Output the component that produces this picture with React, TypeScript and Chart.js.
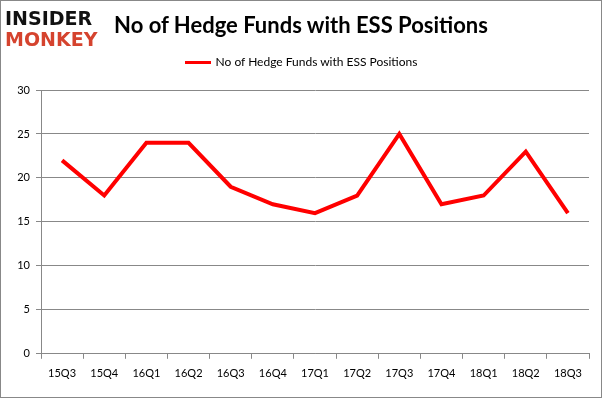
import React, { useEffect, useRef } from "react";
import { Chart, registerables } from "chart.js";

Chart.register(...registerables);

const categories = ["15Q3", "15Q4", "16Q1", "16Q2", "16Q3", "16Q4", "17Q1", "17Q2", "17Q3", "17Q4", "18Q1", "18Q2", "18Q3"];
const hedgeFunds = [22, 18, 24, 24, 19, 17, 16, 18, 25, 17, 18, 23, 16];
const seriesLabel = "No of Hedge Funds with ESS Positions";
const titleText = "No of Hedge Funds with ESS Positions";
const lineColor = "#ff0000";

const fontFamily = "Lato, 'Open Sans', sans-serif";

export default function App() {
  const ref = useRef<HTMLCanvasElement | null>(null);

  useEffect(() => {
    document.body.style.margin = "0";
    const canvas = ref.current;
    if (!canvas) return;
    const chart = new Chart(canvas, {
      type: "line",
      data: {
        labels: categories,
        datasets: [
          {
            label: seriesLabel,
            data: hedgeFunds,
            borderColor: lineColor,
            backgroundColor: lineColor,
            borderWidth: 4,
            pointRadius: 0,
            tension: 0,
          },
        ],
      },
      options: {
        animation: false,
        responsive: false,
        layout: { padding: { left: 0, right: 12, top: 89, bottom: 9 } },
        plugins: {
          title: { display: false },
          legend: { display: false },
          tooltip: { enabled: false },
        },
        scales: {
          x: {
            offset: true,
            grid: {
              offset: true,
              drawOnChartArea: false,
              drawTicks: true,
              tickLength: 5,
              color: "#888",
            },
            border: { color: "#888" },
            ticks: {
              color: "#000",
              font: { family: fontFamily, size: 11 },
              padding: 8,
              maxRotation: 0,
              autoSkip: false,
            },
          },
          y: {
            min: 0,
            max: 30,
            grid: { color: "#888", tickLength: 5 },
            border: { color: "#888" },
            ticks: {
              stepSize: 5,
              color: "#000",
              font: { family: fontFamily, size: 11 },
              padding: 6,
            },
            afterFit: (s: any) => {
              s.width = 40;
            },
          },
        },
      },
    });
    return () => chart.destroy();
  }, []);

  return (
    <div
      style={{
        position: "relative",
        width: 602,
        height: 398,
        border: "1px solid #888",
        boxSizing: "border-box",
        background: "#fff",
      }}
    >
      <canvas ref={ref} width={600} height={396} style={{ display: "block" }} />
      <div
        style={{
          position: "absolute",
          left: 0,
          right: 0,
          top: 11,
          textAlign: "center",
          fontFamily,
          fontWeight: "bold",
          fontSize: 22,
          lineHeight: "26px",
          color: "#000",
        }}
      >
        {titleText}
      </div>
      <div
        style={{
          position: "absolute",
          left: 0,
          right: 0,
          top: 53,
          display: "flex",
          justifyContent: "center",
          alignItems: "center",
          fontFamily,
          fontSize: 12,
          lineHeight: "16px",
          color: "#000",
        }}
      >
        <span style={{ display: "inline-block", width: 26, height: 3, background: lineColor, marginRight: 5 }} />
        <span>{seriesLabel}</span>
      </div>
      <div
        style={{
          position: "absolute",
          left: 4,
          top: 7,
          fontFamily: "'DejaVu Sans', sans-serif",
          fontWeight: 900,
          lineHeight: "21px",
          letterSpacing: 0,
        }}
      >
        <div style={{ color: "#111", fontSize: 19 }}>INSIDER</div>
        <div style={{ color: "#d5432e", fontSize: 19 }}>MONKEY</div>
      </div>
    </div>
  );
}
